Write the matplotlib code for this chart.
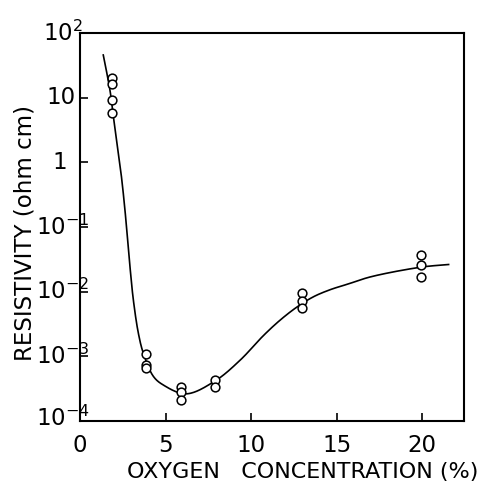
import numpy as np
import matplotlib
matplotlib.use("Agg")
import matplotlib.pyplot as plt
from matplotlib.ticker import NullLocator, FixedLocator
import matplotlib.transforms as mtransforms

# ---- data ----
pts_x = [1.9, 1.9, 1.9, 1.9,
         3.85, 3.85, 3.85,
         5.9, 5.9, 5.9,
         7.9, 7.9,
         13.0, 13.0, 13.0,
         19.95, 19.95, 19.95]
pts_y = [19.8, 16.0, 9.2, 5.7,
         1.08e-3, 7.4e-4, 6.5e-4,
         3.4e-4, 2.8e-4, 2.13e-4,
         4.3e-4, 3.4e-4,
         9.7e-3, 7.2e-3, 5.6e-3,
         0.037, 0.026, 0.0171]

# guide curve: knots (x, log10 resistivity)
curve_x = [1.36, 1.75, 1.95, 2.22, 2.40, 2.57, 2.71, 2.92, 3.12, 3.41, 3.70,
           4.29, 4.85, 6.2, 7.9, 9.36, 10.72, 11.7, 12.67, 13.64, 14.62,
           15.69, 17.0, 19.96, 21.55]
curve_log = [1.66, 1.12, 0.71, 0.19, -0.17, -0.58, -0.97, -1.61, -2.13, -2.64, -2.95,
             -3.31, -3.44, -3.58, -3.38, -3.06, -2.68, -2.44, -2.24, -2.08, -1.97,
             -1.88, -1.77, -1.62, -1.58]

x_ticks = [0, 5, 10, 15, 20]
y_exps = [2, 1, 0, -1, -2, -3, -4]

# ---- smoothing (centripetal Catmull-Rom through knots, in pixel-like units) ----
SX, SY = 17.1, 64.7


def cr_segment(p0, p1, p2, p3, n):
    def tj(ti, pi, pj):
        return ti + max(np.linalg.norm(pj - pi), 1e-9) ** 0.5
    t0 = 0.0
    t1 = tj(t0, p0, p1)
    t2 = tj(t1, p1, p2)
    t3 = tj(t2, p2, p3)
    t = np.linspace(t1, t2, n)[:, None]
    A1 = (t1 - t) / (t1 - t0) * p0 + (t - t0) / (t1 - t0) * p1
    A2 = (t2 - t) / (t2 - t1) * p1 + (t - t1) / (t2 - t1) * p2
    A3 = (t3 - t) / (t3 - t2) * p2 + (t - t2) / (t3 - t2) * p3
    B1 = (t2 - t) / (t2 - t0) * A1 + (t - t0) / (t2 - t0) * A2
    B2 = (t3 - t) / (t3 - t1) * A2 + (t - t1) / (t3 - t1) * A3
    return (t2 - t) / (t2 - t1) * B1 + (t - t1) / (t2 - t1) * B2


P = np.column_stack([np.array(curve_x) * SX, np.array(curve_log) * SY])
P = np.vstack([2 * P[0] - P[1], P, 2 * P[-1] - P[-2]])
segs = [cr_segment(P[i - 1], P[i], P[i + 1], P[i + 2], 30) for i in range(1, len(P) - 2)]
C = np.vstack(segs)
cx = C[:, 0] / SX
cy = 10 ** (C[:, 1] / SY)

# ---- figure ----
W, H = 478, 484
fig = plt.figure(figsize=(W / 100, H / 100), dpi=100)
L, R, T, B = 80, 464, 33, 421
ax = fig.add_axes([L / W, 1 - B / H, (R - L) / W, (B - T) / H])

ax.plot(cx, cy, color="black", lw=1.2)
ax.plot(pts_x, pts_y, linestyle="none", marker="o", ms=6.3, mfc="white",
        mec="black", mew=1.1)

ax.set_yscale("log")
ax.set_xlim(0, 22.45)
ax.set_ylim(1e-4, 1e2)
ax.yaxis.set_major_locator(FixedLocator([10.0 ** e for e in y_exps]))
ax.yaxis.set_minor_locator(NullLocator())
ax.set_yticklabels([])
ax.set_xticks(x_ticks)
ax.set_xticklabels([str(v) for v in x_ticks])
ax.tick_params(axis="both", direction="in", length=6, width=1.2,
               top=False, right=False)
ax.tick_params(axis="x", labelsize=16.5, pad=9)
for s in ax.spines.values():
    s.set_linewidth(1.5)

# y tick labels, centred a little left of the axis as in the source
blend = mtransforms.blended_transform_factory(ax.transAxes, ax.transData)
for e in y_exps:
    val = 10.0 ** e
    if e == 0:
        lab, px = "1", 60
    elif e == 1:
        lab, px = "10", 61
    else:
        lab, px = r"$\mathregular{10^{%s}}$" % (str(e).replace("-", "\u2212")), 63
    off = mtransforms.ScaledTranslation(0, 2 / 72 if e == -4 else 0,
                                        fig.dpi_scale_trans)
    ax.text((px - L) / (R - L), val, lab, transform=blend + off, ha="center",
            va="center", fontsize=16.5)

fig.text(303 / W, 1 - 472 / H, "OXYGEN   CONCENTRATION (%)", ha="center",
         va="center", fontsize=16)
fig.text(25 / W, 1 - 233 / H, "RESISTIVITY (ohm cm)", ha="center",
         va="center", rotation=90, fontsize=16.5)

fig.savefig("out.png", dpi=100)
